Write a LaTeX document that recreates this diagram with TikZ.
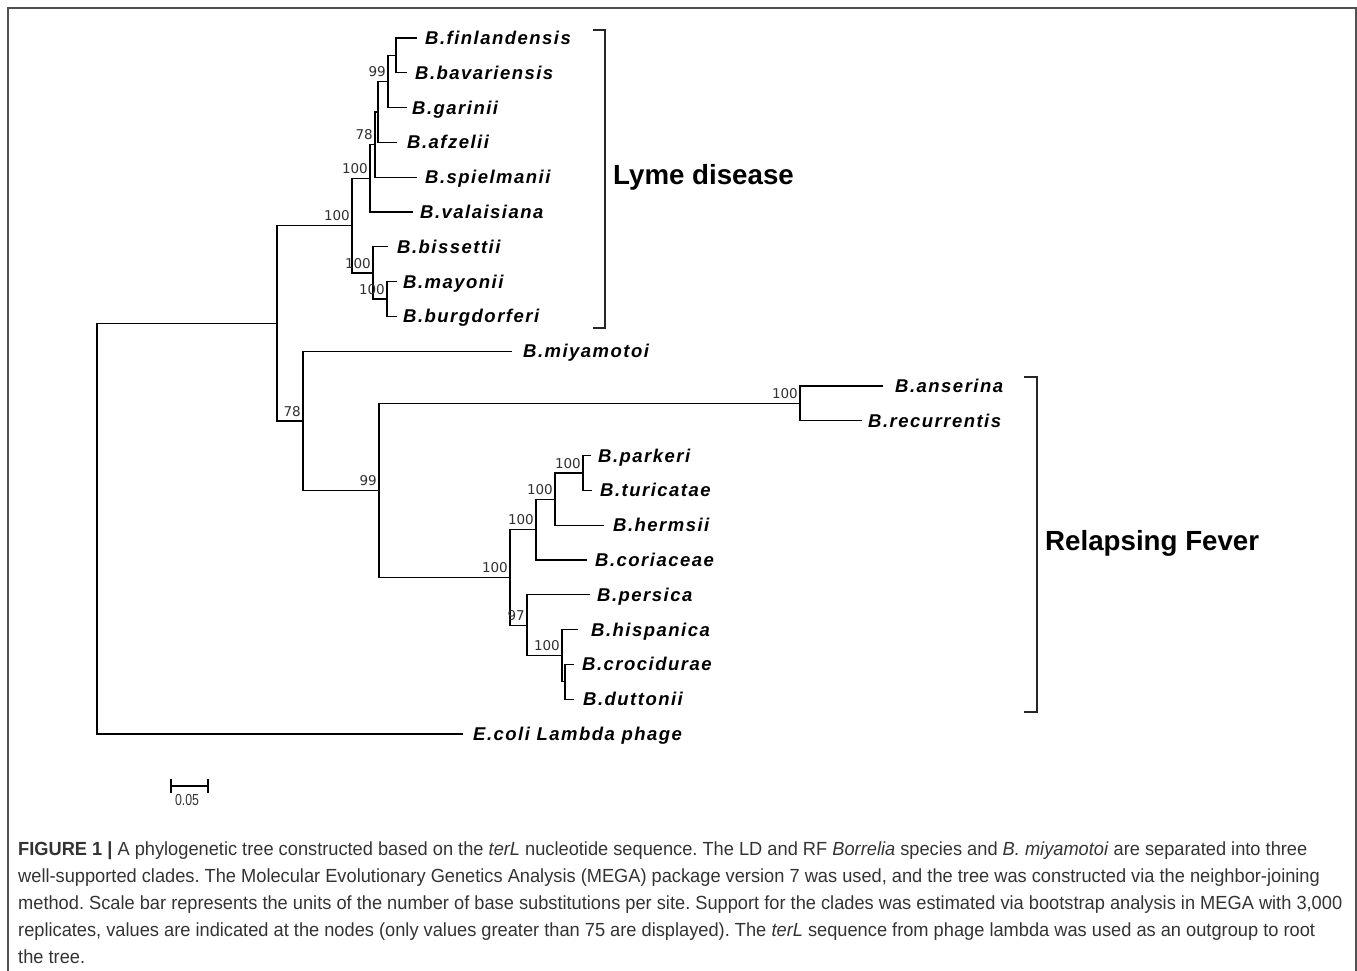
\documentclass[tikz,border=0pt]{standalone}
\usepackage{fontspec}
\usetikzlibrary{calc}
\setmainfont{Liberation Sans}
\newfontfamily\leaffont[LetterSpace=8]{Liberation Sans}
\newfontfamily\bootfont{DejaVu Sans}
\newfontfamily\capfont[FakeStretch=0.96]{Liberation Sans}
\newfontfamily\scalefont[FakeStretch=0.77]{Liberation Sans}
\definecolor{framecol}{HTML}{505050}
\definecolor{captext}{HTML}{333333}
\definecolor{bootcol}{HTML}{303030}
\frenchspacing
\tikzset{
  branch/.style={line width=1.2pt, black, line join=miter},
  leaf/.style={anchor=base west, inner sep=0pt, font=\leaffont\bfseries\itshape\fontsize{18.5}{20}\selectfont},
  boot/.style={anchor=south east, inner sep=0pt, xshift=-2pt, yshift=4.5pt, text=bootcol, font=\bootfont\fontsize{13.5}{15}\selectfont},
  cladelab/.style={anchor=west, inner sep=0pt, font=\bfseries\fontsize{27.7}{30}\selectfont},
  capline/.style={anchor=base west, inner sep=0pt, text=captext, font=\capfont\fontsize{19}{21}\selectfont},
  bracket/.style={line width=1.3pt, black!85},
}
\newcommand{\clade}[3]{\draw[branch] (#2) -| (#1) |- (#3);}
\begin{document}
\begin{tikzpicture}[x=1pt,y=-1pt]
\useasboundingbox (0,0) rectangle (1357,970);
% frame
\draw[framecol, line width=2pt] (8,975) -- (8,8) -- (1356,8) -- (1356,975);
% leaves (branch end points)
\coordinate (L0) at (417,38);
\coordinate (L1) at (407,72.8);
\coordinate (L2) at (407,107.6);
\coordinate (L3) at (397,142.4);
\coordinate (L4) at (417,177.2);
\coordinate (L5) at (413,212);
\coordinate (L6) at (388,246.8);
\coordinate (L7) at (397,281.6);
\coordinate (L8) at (397,316.4);
\coordinate (L9) at (512,351.2);
\coordinate (L10) at (883,386);
\coordinate (L11) at (862,420.8);
\coordinate (L12) at (591,455.6);
\coordinate (L13) at (592,490.4);
\coordinate (L14) at (604,525.2);
\coordinate (L15) at (587,560);
\coordinate (L16) at (590,594.8);
\coordinate (L17) at (578,629.6);
\coordinate (L18) at (574,664.4);
\coordinate (L19) at (574,699.2);
\coordinate (L20) at (463,734);
% internal nodes
\coordinate (Nfb) at (396,55.4);
\coordinate (N99) at (388,81.5);
\coordinate (Na) at (378,111.95);
\coordinate (N78) at (375,144.6);
\coordinate (N100a) at (370,178.3);
\coordinate (Nmb) at (387,299);
\coordinate (NBb) at (373,272.9);
\coordinate (NLD) at (352,225.6);
\coordinate (Nar) at (800,403.4);
\coordinate (Npt) at (583,473);
\coordinate (Npth) at (555,499.1);
\coordinate (Npthc) at (536,529.6);
\coordinate (Ncd) at (565,681.8);
\coordinate (Nhcd) at (562,655.7);
\coordinate (N97) at (527,625.3);
\coordinate (Nsub) at (510,577.4);
\coordinate (N99b) at (379,490.7);
\coordinate (N78b) at (303,421);
\coordinate (Ntop) at (277,323.3);
\coordinate (Root) at (97,528.7);
% branches
\clade{Nfb}{L0}{L1}
\clade{N99}{Nfb}{L2}
\clade{Na}{N99}{L3}
\clade{N78}{Na}{L4}
\clade{N100a}{N78}{L5}
\clade{Nmb}{L7}{L8}
\clade{NBb}{L6}{Nmb}
\clade{NLD}{N100a}{NBb}
\clade{Nar}{L10}{L11}
\clade{Npt}{L12}{L13}
\clade{Npth}{Npt}{L14}
\clade{Npthc}{Npth}{L15}
\clade{Ncd}{L18}{L19}
\clade{Nhcd}{L17}{Ncd}
\clade{N97}{L16}{Nhcd}
\clade{Nsub}{Npthc}{N97}
\clade{N99b}{Nar}{Nsub}
\clade{N78b}{L9}{N99b}
\clade{Ntop}{NLD}{N78b}
\clade{Root}{Ntop}{L20}
% bootstrap values
\node[boot] (b1) at (N99) {99};
\node[boot] (b2) at (N78) {78};
\node[boot] (b3) at (N100a) {100};
\node[boot] (b4) at (NLD) {100};
\node[boot] (b5) at (NBb) {100};
\node[boot] (b6) at (Nmb) {100};
\node[boot] (b7) at (N78b) {78};
\node[boot] (b8) at (N99b) {99};
\node[boot] (b9) at (Nar) {100};
\node[boot] (b10) at (Npt) {100};
\node[boot] (b11) at (Npth) {100};
\node[boot] (b12) at (Npthc) {100};
\node[boot] (b13) at (Nsub) {100};
\node[boot] (b14) at (N97) {97};
\node[boot] (b15) at (Nhcd) {100};
% leaf labels
\node[leaf] (t0) at (425,44.5) {B.finlandensis};
\node[leaf] (t1) at (415,79.3) {B.bavariensis};
\node[leaf] (t2) at (412,114.1) {B.garinii};
\node[leaf] (t3) at (407,148.9) {B.afzelii};
\node[leaf] (t4) at (425,183.7) {B.spielmanii};
\node[leaf] (t5) at (420,218.5) {B.valaisiana};
\node[leaf] (t6) at (397,253.3) {B.bissettii};
\node[leaf] (t7) at (403,288.1) {B.mayonii};
\node[leaf] (t8) at (403,322.9) {B.burgdorferi};
\node[leaf] (t9) at (523,357.7) {B.miyamotoi};
\node[leaf] (t10) at (895,392.5) {B.anserina};
\node[leaf] (t11) at (868,427.3) {B.recurrentis};
\node[leaf] (t12) at (598,462.1) {B.parkeri};
\node[leaf] (t13) at (600,496.9) {B.turicatae};
\node[leaf] (t14) at (613,531.7) {B.hermsii};
\node[leaf] (t15) at (595,566.5) {B.coriaceae};
\node[leaf] (t16) at (597,601.3) {B.persica};
\node[leaf] (t17) at (591,636.1) {B.hispanica};
\node[leaf] (t18) at (582,670.9) {B.crocidurae};
\node[leaf] (t19) at (583,705.7) {B.duttonii};
\node[leaf] (t20) at (473,740.5) {E.coli Lambda phage};
% brackets and clade labels
\coordinate (ld1) at (593,30);
\coordinate (ld2) at (605,328);
\draw[bracket] (ld1) -| (ld2) -- ++(-12,0);
\node[cladelab] (lyme) at (613,177) {Lyme disease};
\coordinate (rf1) at (1024,377);
\coordinate (rf2) at (1037,712);
\draw[bracket] (rf1) -| (rf2) -- ++(-13,0);
\node[cladelab] (relap) at (1045,543) {Relapsing Fever};
% scale bar
\coordinate (sb1) at (171,786);
\coordinate (sb2) at (208,786);
\draw[line width=1.1pt] (sb1) -- (sb2);
\draw[line width=1.1pt] ($(sb1)+(0,-7)$) -- ($(sb1)+(0,7)$);
\draw[line width=1.1pt] ($(sb2)+(0,-7)$) -- ($(sb2)+(0,7)$);
\node[inner sep=0pt, anchor=north, text=captext, font=\scalefont\fontsize{16}{17}\selectfont] (sblab) at (187,794) {0.05};
% caption
\node[capline] (c1) at (18,855) {\textbf{FIGURE 1 |} A phylogenetic tree constructed based on the \textit{terL} nucleotide sequence. The LD and RF \textit{Borrelia} species and \textit{B. miyamotoi} are separated into three};
\node[capline] (c2) at (18,882) {well-supported clades. The Molecular Evolutionary Genetics Analysis (MEGA) package version 7 was used, and the tree was constructed via the neighbor-joining};
\node[capline] (c3) at (18,909) {method. Scale bar represents the units of the number of base substitutions per site. Support for the clades was estimated via bootstrap analysis in MEGA with 3,000};
\node[capline] (c4) at (18,936) {replicates, values are indicated at the nodes (only values greater than 75 are displayed). The \textit{terL} sequence from phage lambda was used as an outgroup to root};
\node[capline] (c5) at (18,963) {the tree.};
\end{tikzpicture}
\end{document}
